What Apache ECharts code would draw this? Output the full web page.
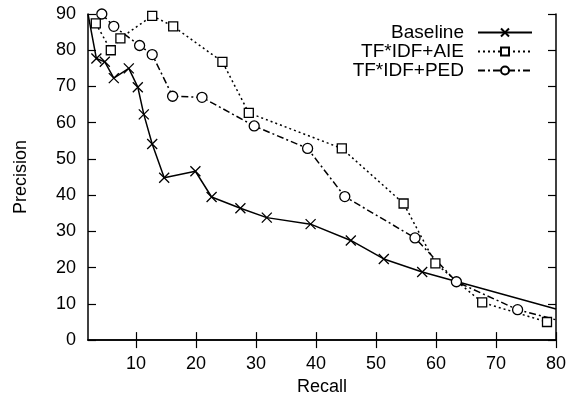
<!DOCTYPE html>
<html>
<head>
<meta charset="utf-8">
<script src="https://cdn.jsdelivr.net/npm/echarts@6/dist/echarts.min.js"></script>
<style>html,body{margin:0;padding:0;background:#fff}#c{width:574px;height:401px}</style>
</head>
<body>
<div id="c"></div>
<script>
const xTicks = [10, 20, 30, 40, 50, 60, 70, 80];
const seriesNames = ['Baseline', 'TF*IDF+AIE', 'TF*IDF+PED'];
const baselineX = [2, 3.4, 4.8, 6.3, 8.8, 10.3, 11.3, 12.7, 14.7, 19.9, 22.6, 27.4, 31.8, 39.1, 45.8, 51.3, 57.7, 80];
const baselineY = [90, 77.7, 76.8, 72.3, 75, 69.8, 62.3, 54.1, 44.8, 46.6, 39.5, 36.4, 33.8, 32, 27.5, 22.4, 18.8, 8.6];
const aieX = [3.3, 5.8, 7.4, 12.7, 16.2, 24.4, 28.8, 44.3, 54.6, 59.9, 67.7, 78.5];
const aieY = [87.4, 80, 83.3, 89.5, 86.6, 76.8, 62.7, 52.9, 37.7, 21.2, 10.4, 5.0];
const pedX = [4.3, 6.3, 10.6, 12.7, 16.1, 21, 29.7, 38.6, 44.8, 56.5, 63.4, 73.6, 80];
const pedY = [90, 86.6, 81.3, 78.8, 67.3, 67, 59.1, 52.9, 39.6, 28.2, 16.1, 8.4, 5.6];

function pts(xs, ys, hideEnds) {
  return xs.map((x, i) => {
    const item = { value: [x, ys[i]] };
    if (hideEnds && (i === 0 && hideEnds.first || i === xs.length - 1 && hideEnds.last)) item.symbol = 'none';
    return item;
  });
}

const font = 'Liberation Sans, Arial, Helvetica, sans-serif';
const chart = echarts.init(document.getElementById('c'), null, { renderer: 'canvas' });
const axLine = { show: true, lineStyle: { color: '#000', width: 1.5 } };
const tickStyle = { inside: true, length: 8, lineStyle: { color: '#000', width: 1.2 } };

chart.setOption({
  animation: false,
  backgroundColor: '#fff',
  grid: { left: 88, right: 18, top: 14, bottom: 57.5 },
  legend: {
    orient: 'vertical',
    right: 36,
    top: 18,
    align: 'right',
    itemWidth: 54,
    itemHeight: 10,
    itemGap: 0,
    textStyle: { fontFamily: font, fontSize: 19, lineHeight: 18.5, color: '#000', padding: [0, 9, 0, 0] },
    data: seriesNames
  },
  xAxis: [{
    type: 'value', min: 2, max: 80, position: 'bottom',
    name: 'Recall', nameLocation: 'middle', nameGap: 34,
    nameTextStyle: { fontFamily: font, fontSize: 18, color: '#000' },
    axisLine: axLine,
    axisTick: Object.assign({ customValues: xTicks }, tickStyle),
    axisLabel: { customValues: xTicks, fontFamily: font, fontSize: 18, color: '#000', margin: 15 },
    splitLine: { show: false }
  }, {
    type: 'value', min: 2, max: 80, position: 'top',
    axisLine: axLine,
    axisTick: Object.assign({ customValues: xTicks }, tickStyle),
    axisLabel: { show: false },
    splitLine: { show: false }
  }],
  yAxis: [{
    type: 'value', min: 0, max: 90, interval: 10, position: 'left',
    name: 'Precision', nameLocation: 'middle', nameGap: 58, nameRotate: 90,
    nameTextStyle: { fontFamily: font, fontSize: 18, color: '#000' },
    axisLine: axLine,
    axisTick: tickStyle,
    axisLabel: { fontFamily: font, fontSize: 18, color: '#000', margin: 12 },
    splitLine: { show: false }
  }, {
    type: 'value', min: 0, max: 90, interval: 10, position: 'right',
    axisLine: axLine,
    axisTick: tickStyle,
    axisLabel: { show: false },
    splitLine: { show: false }
  }],
  series: [{
    name: seriesNames[0], type: 'line',
    data: pts(baselineX, baselineY, { first: true, last: true }),
    symbol: 'path://M0,0L10,10M10,0L0,10', symbolSize: 10,
    lineStyle: { color: '#000', width: 1.5 },
    itemStyle: { color: '#000', borderColor: '#000', borderWidth: 1.3 }
  }, {
    name: seriesNames[1], type: 'line',
    data: pts(aieX, aieY),
    symbol: 'rect', symbolSize: 9,
    lineStyle: { color: '#000', width: 1.5, type: [2, 3] },
    itemStyle: { color: '#fff', borderColor: '#000', borderWidth: 1.3 }
  }, {
    name: seriesNames[2], type: 'line',
    data: pts(pedX, pedY, { last: true }),
    symbol: 'circle', symbolSize: 10,
    lineStyle: { color: '#000', width: 1.5, type: [7, 3, 2, 3] },
    itemStyle: { color: '#fff', borderColor: '#000', borderWidth: 1.3 }
  }]
});
</script>
</body>
</html>
